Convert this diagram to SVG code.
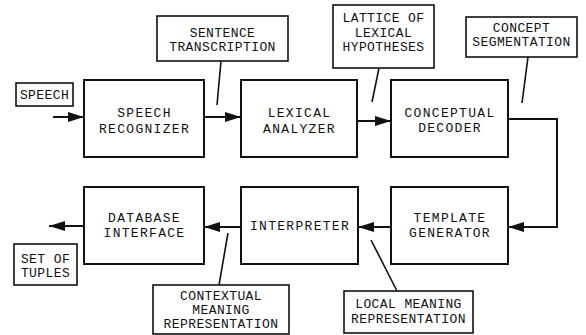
<svg xmlns="http://www.w3.org/2000/svg" width="586" height="335" viewBox="0 0 586 335">
<style>
.box{fill:#fff;stroke:#111;stroke-width:2}
.lbl{fill:#fff;stroke:#111;stroke-width:1.6}
.t{font-family:"Liberation Mono","DejaVu Sans Mono",monospace;font-size:13px;fill:#111;text-anchor:middle;letter-spacing:1.3px}
.s{font-family:"Liberation Mono","DejaVu Sans Mono",monospace;font-size:13px;fill:#111;text-anchor:middle;letter-spacing:0.4px}
.ln{fill:none;stroke:#111;stroke-width:2}
.pt{fill:none;stroke:#111;stroke-width:1.6}
</style>
<defs>
<marker id="ah" markerUnits="userSpaceOnUse" markerWidth="18" markerHeight="12" refX="16" refY="6" orient="auto">
<path d="M0,1 L16,6 L0,11 Z" fill="#111"/>
</marker>
</defs>
<g id="connectors">
<line class="ln" x1="53" y1="117" x2="84" y2="117" marker-end="url(#ah)"/>
<line class="ln" x1="204" y1="117" x2="241" y2="117" marker-end="url(#ah)"/>
<line class="ln" x1="357" y1="121" x2="391" y2="121" marker-end="url(#ah)"/>
<polyline class="ln" points="508,119 557,119 557,227 508,227" marker-end="url(#ah)"/>
<line class="ln" x1="391" y1="227" x2="358" y2="227" marker-end="url(#ah)"/>
<line class="ln" x1="241" y1="227" x2="204" y2="227" marker-end="url(#ah)"/>
<line class="ln" x1="84" y1="226" x2="49" y2="226" marker-end="url(#ah)"/>
<line class="pt" x1="221" y1="61" x2="217" y2="105"/>
<line class="pt" x1="379" y1="68" x2="372" y2="102"/>
<line class="pt" x1="528" y1="57" x2="522" y2="103"/>
<line class="pt" x1="397" y1="291" x2="371" y2="240"/>
<line class="pt" x1="219" y1="285" x2="228" y2="233"/>
</g>
<g id="speech">
<rect class="lbl" x="16" y="83" width="57" height="23"/>
<text class="s" x="44.5" y="98.5">SPEECH</text>
</g>
<g id="speech-recognizer">
<rect class="box" x="84" y="80" width="120" height="77"/>
<text class="t" x="144.5" y="116.5">SPEECH</text>
<text class="t" x="144.5" y="132.5">RECOGNIZER</text>
</g>
<g id="sentence-transcription">
<rect class="lbl" x="157" y="16" width="131" height="45"/>
<text class="s" x="222.5" y="37">SENTENCE</text>
<text class="s" x="222.5" y="51">TRANSCRIPTION</text>
</g>
<g id="lexical-analyzer">
<rect class="box" x="241" y="80" width="116" height="77"/>
<text class="t" x="299.5" y="116.5">LEXICAL</text>
<text class="t" x="299.5" y="132.5">ANALYZER</text>
</g>
<g id="lattice">
<rect class="lbl" x="333" y="5" width="101" height="63"/>
<text class="s" x="383.5" y="22">LATTICE OF</text>
<text class="s" x="383.5" y="36.5">LEXICAL</text>
<text class="s" x="383.5" y="51">HYPOTHESES</text>
</g>
<g id="conceptual-decoder">
<rect class="box" x="391" y="80" width="117" height="77"/>
<text class="t" x="450" y="116.5">CONCEPTUAL</text>
<text class="t" x="450" y="131.5">DECODER</text>
</g>
<g id="concept-segmentation">
<rect class="lbl" x="466" y="17" width="111" height="40"/>
<text class="s" x="521.5" y="32">CONCEPT</text>
<text class="s" x="521.5" y="46">SEGMENTATION</text>
</g>
<g id="template-generator">
<rect class="box" x="391" y="187" width="117" height="77"/>
<text class="t" x="450" y="222">TEMPLATE</text>
<text class="t" x="450" y="237">GENERATOR</text>
</g>
<g id="interpreter">
<rect class="box" x="241" y="187" width="117" height="77"/>
<text class="t" x="300" y="230">INTERPRETER</text>
</g>
<g id="local-meaning">
<rect class="lbl" x="344" y="291" width="129" height="42"/>
<text class="s" x="408.5" y="308">LOCAL MEANING</text>
<text class="s" x="408.5" y="323">REPRESENTATION</text>
</g>
<g id="database-interface">
<rect class="box" x="84" y="187" width="120" height="77"/>
<text class="t" x="144.5" y="222">DATABASE</text>
<text class="t" x="144.5" y="237">INTERFACE</text>
</g>
<g id="set-of-tuples">
<rect class="lbl" x="14" y="244" width="63" height="41"/>
<text class="s" x="45.5" y="263">SET OF</text>
<text class="s" x="45.5" y="277">TUPLES</text>
</g>
<g id="contextual-meaning">
<rect class="lbl" x="153" y="285" width="136" height="49"/>
<text class="s" x="221" y="300">CONTEXTUAL</text>
<text class="s" x="221" y="314">MEANING</text>
<text class="s" x="221" y="328">REPRESENTATION</text>
</g>
</svg>
